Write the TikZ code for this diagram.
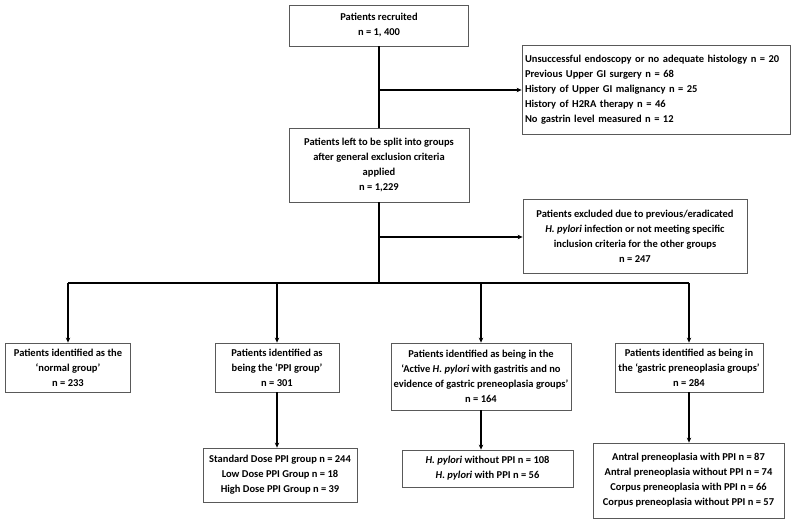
\documentclass[tikz,border=0pt]{standalone}
\usepackage{fontspec}
\setmainfont{Carlito}
\usepackage{tikz}
\usetikzlibrary{arrows.meta, calc, positioning}

\tikzset{
	box/.style={draw=black!65, line width=0.8pt, fill=white, align=center, inner sep=2pt,
		font=\bfseries\fontsize{10.5}{15}\selectfont},
	flow/.style={line width=1.5pt, black},
	arr/.style={flow, -{Stealth[length=5pt, width=4.5pt]}}
}

\begin{document}
\begin{tikzpicture}[x=1pt, y=1pt]
			\useasboundingbox (0,0) rectangle (797,-521);
			
			% Main column
			\node[box, minimum width=179pt, minimum height=41pt] (recruited) at (379,-25.5) {Patients recruited\\n = 1, 400};
			\node[box, minimum width=180pt, minimum height=74pt] (left) at (379,-165) {Patients left to be split into groups\\after general exclusion criteria\\applied\\n = 1,229};
			
			% Exclusions
			\node[box, align=left, minimum width=268pt, minimum height=89pt, text width=262pt] (excl1) at (656,-89.5) {Unsuccessful endoscopy or no adequate histology n = 20\\Previous Upper GI surgery n = 68\\History of Upper GI malignancy n = 25\\History of H2RA therapy n = 46\\No gastrin level measured n = 12};
			\node[box, minimum width=224pt, minimum height=74pt] (excl2) at (635,-236) {Patients excluded due to previous/eradicated\\\textit{H. pylori} infection or not meeting specific\\inclusion criteria for the other groups\\n = 247};
			
			% Groups
			\node[box, minimum width=125pt, minimum height=49pt] (normal) at (68,-367.5) {Patients identified as the\\‘normal group’\\n = 233};
			\node[box, minimum width=124pt, minimum height=49pt] (ppi) at (277,-367.5) {Patients identified as\\being the ‘PPI group’\\n = 301};
			\node[box, minimum width=180pt, minimum height=67pt] (hp) at (481,-376.5) {Patients identified as being in the\\‘Active \textit{H. pylori} with gastritis and no\\evidence of gastric preneoplasia groups’\\n = 164};
			\node[box, minimum width=148pt, minimum height=49pt] (gpn) at (689,-367.5) {Patients identified as being in\\the ‘gastric preneoplasia groups’\\n = 284};
			
			% Subgroups
			\node[box, minimum width=154pt, minimum height=54pt] (ppisub) at (280,-475) {Standard Dose PPI group n = 244\\Low Dose PPI Group n = 18\\High Dose PPI Group n = 39};
			\node[box, minimum width=171pt, minimum height=37pt] (hpsub) at (487.5,-468.5) {\textit{H. pylori} without PPI n = 108\\\textit{H. pylori} with PPI n = 56};
			\node[box, minimum width=191pt, minimum height=75pt] (gpnsub) at (688.5,-480.5) {Antral preneoplasia with PPI n = 87\\Antral preneoplasia without PPI n = 74\\Corpus preneoplasia with PPI n = 66\\Corpus preneoplasia without PPI n = 57};
			
			% Junctions
			\coordinate (j1) at (379,-90);
			\coordinate (j2) at (379,-237);
			\coordinate (split) at (379,-283);
			
			% Connectors
			\draw[flow] (recruited.south) -- (left.north);
			\draw[arr] (j1) -- (j1 -| excl1.west);
			\draw[flow] (left.south) -- (split);
			\draw[arr] (j2) -- (j2 -| excl2.west);
			\draw[flow] (split -| normal.north) -- (split -| gpn.north);
			\foreach \grp in {normal, ppi, hp, gpn}
				\draw[arr] (split -| \grp.north) -- (\grp.north);
			\draw[arr] (ppi.south) -- (ppi.south |- ppisub.north);
			\draw[arr] (hp.south) -- (hp.south |- hpsub.north);
			\draw[arr] (gpn.south) -- (gpn.south |- gpnsub.north);
		\end{tikzpicture}
\end{document}
